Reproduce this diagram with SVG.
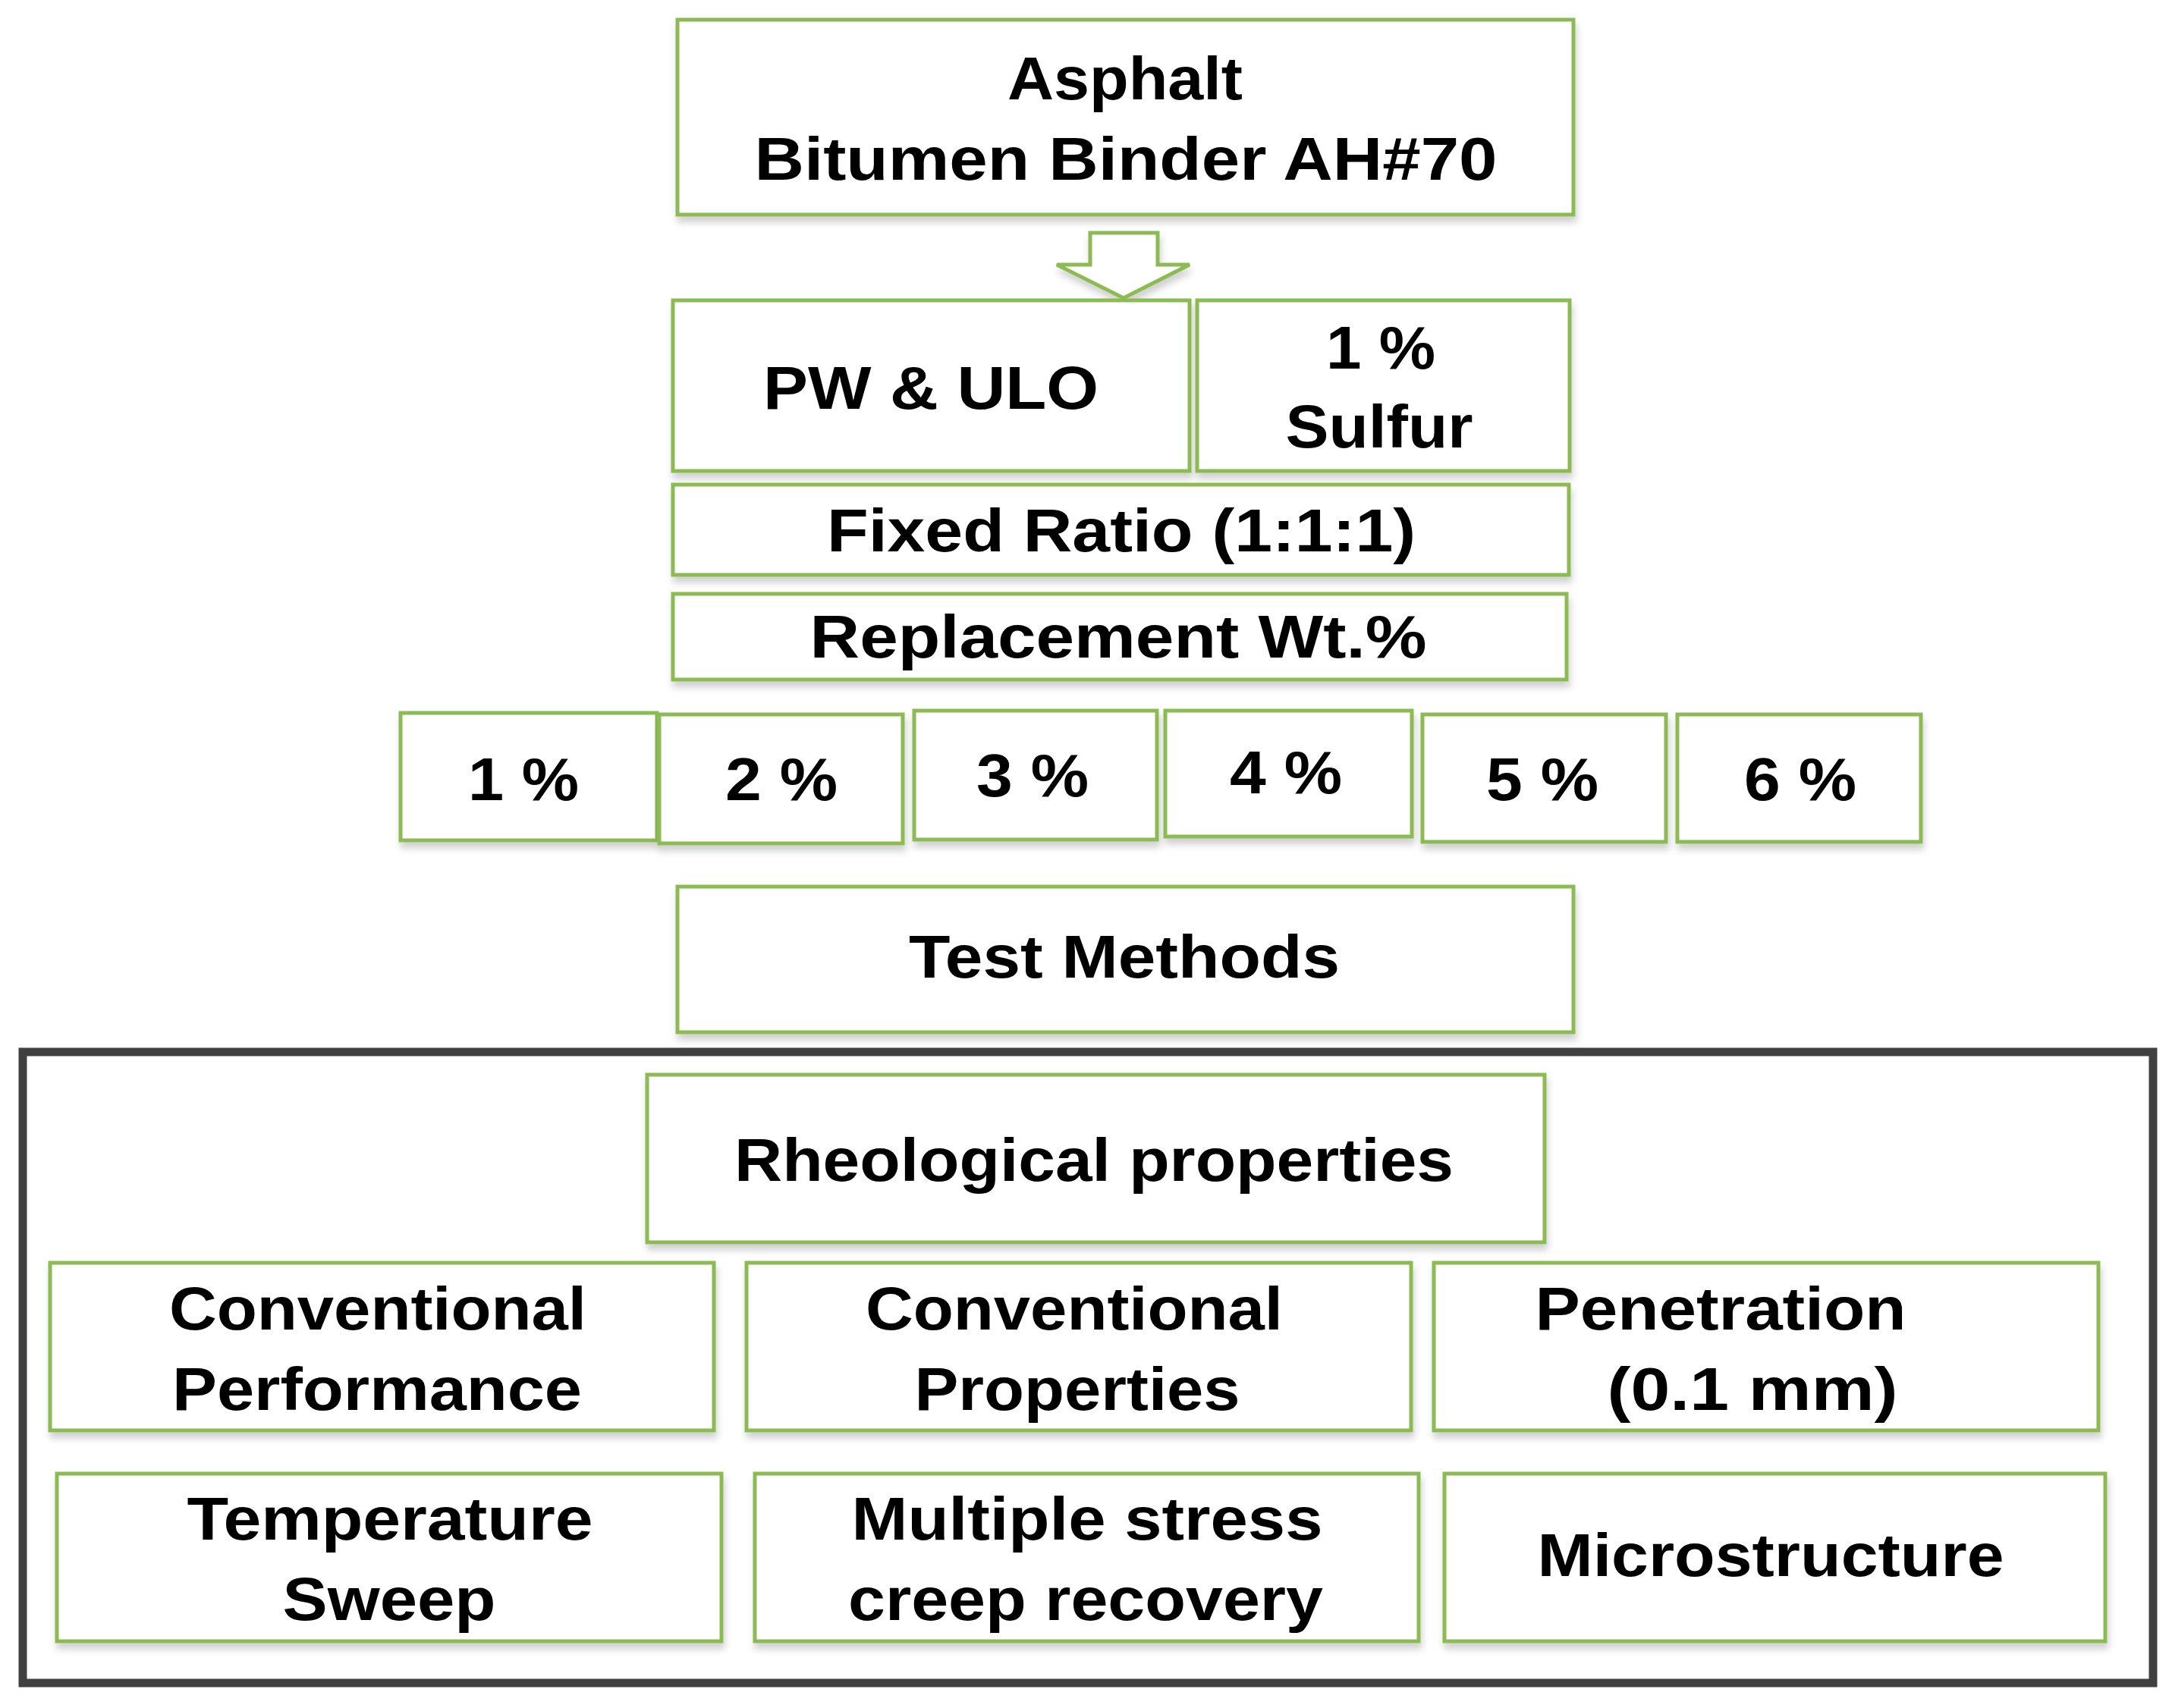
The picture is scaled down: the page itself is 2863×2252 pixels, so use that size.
<svg xmlns="http://www.w3.org/2000/svg" width="2863" height="2252" viewBox="0 0 2863 2252">
<style>
.b{fill:#fff;stroke:#8CBB52;stroke-width:5;filter:url(#sh)}
.t{font-family:"Liberation Sans",Arial,sans-serif;font-weight:bold;font-size:80px;fill:#000;text-anchor:middle}
.f{fill:none;stroke:#404040;stroke-width:11}
</style>
<defs>
<filter id="sh" x="-5%" y="-10%" width="110%" height="130%">
<feDropShadow dx="2" dy="8" stdDeviation="5" flood-color="#000" flood-opacity="0.18"/>
</filter>
</defs>
<rect width="2863" height="2252" fill="#fff"/>
<g id="frame"><rect class="f" x="30" y="1387" width="2808" height="832"/></g>
<g id="connectors">
<polygon points="1437,307 1526,307 1526,349 1568,349 1481,393 1393,349 1437,349" fill="#fff" stroke="#8CBB52" stroke-width="5" filter="url(#sh)"/>
</g>
<g id="n-asphalt"><rect class="b" x="893" y="26" width="1181" height="257"/>
<text class="t" x="1483" y="131" textLength="310" lengthAdjust="spacingAndGlyphs">Asphalt</text>
<text class="t" x="1484" y="237" textLength="979" lengthAdjust="spacingAndGlyphs">Bitumen Binder AH#70</text></g>
<g id="n-pw"><rect class="b" x="887" y="396" width="681" height="225"/>
<text class="t" x="1227" y="539" textLength="442" lengthAdjust="spacingAndGlyphs">PW &amp; ULO</text></g>
<g id="n-sulfur"><rect class="b" x="1578" y="396" width="491" height="225"/>
<text class="t" x="1820" y="486" textLength="144" lengthAdjust="spacingAndGlyphs">1 %</text>
<text class="t" x="1818" y="590" textLength="247" lengthAdjust="spacingAndGlyphs">Sulfur</text></g>
<g id="n-ratio"><rect class="b" x="887" y="639" width="1181" height="119"/>
<text class="t" x="1478" y="727" textLength="776" lengthAdjust="spacingAndGlyphs">Fixed Ratio (1:1:1)</text></g>
<g id="n-repl"><rect class="b" x="887" y="783" width="1178" height="113"/>
<text class="t" x="1474" y="867" textLength="813" lengthAdjust="spacingAndGlyphs">Replacement Wt.%</text></g>
<g id="n-p1"><rect class="b" x="528" y="940" width="338" height="168"/>
<text class="t" x="690" y="1055" textLength="146" lengthAdjust="spacingAndGlyphs">1 %</text></g>
<g id="n-p2"><rect class="b" x="869" y="942" width="321" height="170"/>
<text class="t" x="1030" y="1055" textLength="148" lengthAdjust="spacingAndGlyphs">2 %</text></g>
<g id="n-p3"><rect class="b" x="1205" y="937" width="320" height="170"/>
<text class="t" x="1361" y="1050" textLength="148" lengthAdjust="spacingAndGlyphs">3 %</text></g>
<g id="n-p4"><rect class="b" x="1536" y="937" width="325" height="166"/>
<text class="t" x="1695" y="1046" textLength="148" lengthAdjust="spacingAndGlyphs">4 %</text></g>
<g id="n-p5"><rect class="b" x="1875" y="942" width="321" height="168"/>
<text class="t" x="2033" y="1055" textLength="148" lengthAdjust="spacingAndGlyphs">5 %</text></g>
<g id="n-p6"><rect class="b" x="2211" y="942" width="321" height="168"/>
<text class="t" x="2373" y="1055" textLength="148" lengthAdjust="spacingAndGlyphs">6 %</text></g>
<g id="n-test"><rect class="b" x="893" y="1169" width="1181" height="192"/>
<text class="t" x="1482" y="1289" textLength="568" lengthAdjust="spacingAndGlyphs">Test Methods</text></g>
<g id="n-rheo"><rect class="b" x="853" y="1417" width="1183" height="221"/>
<text class="t" x="1442" y="1557" textLength="948" lengthAdjust="spacingAndGlyphs">Rheological  properties</text></g>
<g id="n-cperf"><rect class="b" x="66" y="1665" width="875" height="221"/>
<text class="t" x="498" y="1753" textLength="550" lengthAdjust="spacingAndGlyphs">Conventional</text>
<text class="t" x="497" y="1859" textLength="540" lengthAdjust="spacingAndGlyphs">Performance</text></g>
<g id="n-cprop"><rect class="b" x="984" y="1665" width="876" height="221"/>
<text class="t" x="1416" y="1753" textLength="550" lengthAdjust="spacingAndGlyphs">Conventional</text>
<text class="t" x="1420" y="1859" textLength="429" lengthAdjust="spacingAndGlyphs">Properties</text></g>
<g id="n-pen"><rect class="b" x="1890" y="1665" width="876" height="221"/>
<text class="t" x="2268" y="1753" textLength="489" lengthAdjust="spacingAndGlyphs">Penetration</text>
<text class="t" x="2310" y="1859" textLength="383" lengthAdjust="spacingAndGlyphs">(0.1 mm)</text></g>
<g id="n-temp"><rect class="b" x="75" y="1943" width="876" height="221"/>
<text class="t" x="514" y="2030" textLength="535" lengthAdjust="spacingAndGlyphs">Temperature</text>
<text class="t" x="513" y="2136" textLength="281" lengthAdjust="spacingAndGlyphs">Sweep</text></g>
<g id="n-mscr"><rect class="b" x="995" y="1943" width="875" height="221"/>
<text class="t" x="1433" y="2030" textLength="621" lengthAdjust="spacingAndGlyphs">Multiple  stress</text>
<text class="t" x="1431" y="2136" textLength="626" lengthAdjust="spacingAndGlyphs">creep recovery</text></g>
<g id="n-micro"><rect class="b" x="1904" y="1943" width="871" height="221"/>
<text class="t" x="2334" y="2078" textLength="615" lengthAdjust="spacingAndGlyphs">Microstructure</text></g>
</svg>
